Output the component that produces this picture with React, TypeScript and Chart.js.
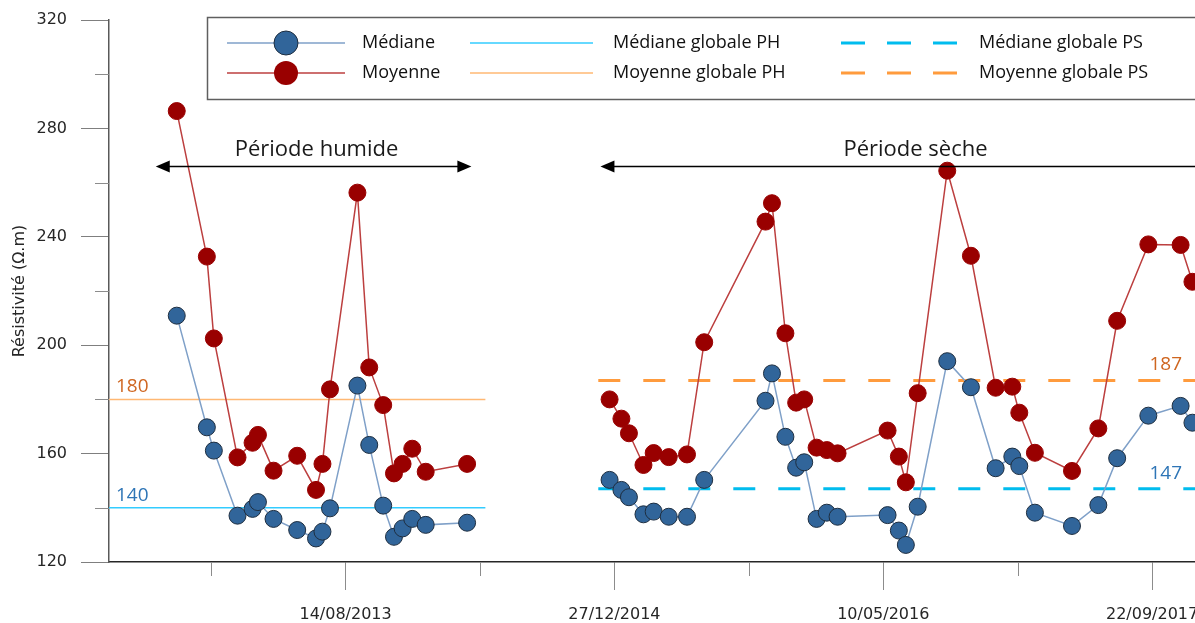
import React, { useEffect, useRef } from 'react';
import { Chart, registerables } from 'chart.js';

Chart.register(...registerables);

// ---- Data (x = Excel date serial numbers) ----
const phDates = [41186, 41242, 41255, 41299, 41327, 41337, 41366, 41410, 41445, 41457, 41471, 41522, 41544, 41570, 41590, 41606, 41624, 41649, 41726];
const phMedian = [210.9, 169.7, 161.1, 137.1, 139.6, 142.1, 135.9, 131.8, 128.7, 131.2, 139.8, 185.1, 163.2, 140.8, 129.3, 132.4, 135.9, 133.7, 134.5];
const phMean = [286.4, 232.7, 202.5, 158.6, 164.0, 166.9, 153.7, 159.2, 146.6, 156.2, 183.7, 256.3, 191.8, 177.9, 152.7, 156.2, 161.8, 153.3, 156.2];

const psDates = [41991, 42013, 42027, 42054, 42073, 42101, 42135, 42167, 42281, 42293, 42318, 42338, 42353, 42376, 42395, 42415, 42508, 42529, 42542, 42564, 42619, 42663, 42709, 42740, 42753, 42782, 42851, 42900, 42935, 42993, 43053, 43075];
const psMedian = [150.3, 146.6, 143.9, 137.6, 138.6, 136.7, 136.7, 150.3, 179.5, 189.6, 166.2, 154.8, 156.8, 135.9, 138.2, 136.7, 137.3, 131.6, 126.3, 140.4, 194.1, 184.5, 154.6, 158.9, 155.4, 138.2, 133.3, 141.0, 158.3, 174.0, 177.6, 171.4];
const psMean = [180.0, 172.9, 167.5, 155.8, 160.2, 158.7, 159.7, 201.1, 245.6, 252.4, 204.4, 178.8, 180.0, 162.2, 161.3, 160.1, 168.5, 158.9, 149.4, 182.3, 264.4, 233.0, 184.3, 184.7, 175.1, 160.3, 153.6, 169.3, 209.0, 237.2, 237.0, 223.4];

const globalMedianPH = 140;
const globalMeanPH = 180;
const globalMedianPS = 147;
const globalMeanPS = 187;
const phSpan = [41060, 41760];
const psSpan = [41970, 43183];

const yMajorTicks = [120, 160, 200, 240, 280, 320];
const yMinorTicks = [140, 180, 220, 260, 300];
const xMajorTicks = [41500, 42000, 42500, 43000];
const xTickLabels = ['14/08/2013', '27/12/2014', '10/05/2016', '22/09/2017'];
const xMinorTicks = [41250, 41750, 42250, 42750];

const legendLabels = ['Médiane', 'Moyenne', 'Médiane globale PH', 'Moyenne globale PH', 'Médiane globale PS', 'Moyenne globale PS'];
const periodLabels = ['Période humide', 'Période sèche'];
const yTitle = 'Résistivité (Ω.m)';

// ---- Styles ----
const X_MIN = 41060;
const X_MAX = 43183;
const BLUE_LINE = '#7FA0C8';
const BLUE_FILL = '#31659A';
const BLUE_EDGE = '#1E2E40';
const RED_LINE = '#BC3F3F';
const RED_FILL = '#990000';
const CYAN_PH = '#33CCFF';
const ORANGE_PH = '#FFB873';
const CYAN_PS = '#00BCEE';
const ORANGE_PS = '#FF9B3D';
const LBL_ORANGE = '#CF6620';
const LBL_BLUE = '#2E75B6';
const DASH = [22, 23];
const TEXT_FONT = '"Open Sans", "Noto Sans", sans-serif';

const toPts = (xs: number[], ys: number[]) => xs.map((x, i) => ({ x, y: ys[i] }));

const refLine = (span: number[], v: number, color: string, width: number, dash: number[]) => ({
  data: [{ x: span[0], y: v }, { x: span[1], y: v }],
  borderColor: color,
  borderWidth: width,
  borderDash: dash,
  pointRadius: 0,
  fill: false,
  order: 5,
});

const series = (xs: number[], ys: number[], line: string, fill: string, edge: string) => ({
  data: toPts(xs, ys),
  borderColor: line,
  borderWidth: 1.5,
  pointRadius: 8.5,
  pointBackgroundColor: fill,
  pointBorderColor: edge,
  pointBorderWidth: 1,
  fill: false,
  tension: 0,
  order: 1,
});

const overlay = {
  id: 'overlay',
  afterDatasetsDraw(chart: any) {
    const { ctx, scales } = chart;
    const xs = scales.x;
    const ys = scales.y;
    ctx.save();
    // value labels
    ctx.font = `19px ${TEXT_FONT}`;
    ctx.textAlign = 'left';
    ctx.textBaseline = 'alphabetic';
    ctx.fillStyle = LBL_ORANGE;
    ctx.fillText(String(globalMeanPH), xs.getPixelForValue(41073), ys.getPixelForValue(globalMeanPH) - 7);
    ctx.fillText(String(globalMeanPS), xs.getPixelForValue(42995), ys.getPixelForValue(globalMeanPS) - 10);
    ctx.fillStyle = LBL_BLUE;
    ctx.fillText(String(globalMedianPH), xs.getPixelForValue(41073), ys.getPixelForValue(globalMedianPH) - 7);
    ctx.fillText(String(globalMedianPS), xs.getPixelForValue(42995), ys.getPixelForValue(globalMedianPS) - 10);

    // period arrows
    const ay = Math.round(ys.getPixelForValue(266.3)) + 0.5;
    const head = (x: number, dir: number) => {
      ctx.beginPath();
      ctx.moveTo(x, ay);
      ctx.lineTo(x + dir * 14, ay - 6);
      ctx.lineTo(x + dir * 14, ay + 6);
      ctx.closePath();
      ctx.fill();
    };
    ctx.strokeStyle = '#000';
    ctx.fillStyle = '#000';
    ctx.lineWidth = 1.5;
    const h1 = xs.getPixelForValue(41147);
    const h2 = xs.getPixelForValue(41734);
    ctx.beginPath();
    ctx.moveTo(h1 + 4, ay);
    ctx.lineTo(h2 - 4, ay);
    ctx.stroke();
    head(h1, 1);
    head(h2, -1);
    const s1 = xs.getPixelForValue(41974);
    ctx.beginPath();
    ctx.moveTo(s1 + 4, ay);
    ctx.lineTo(chart.width, ay);
    ctx.stroke();
    head(s1, 1);

    ctx.font = `22px ${TEXT_FONT}`;
    ctx.textAlign = 'center';
    ctx.fillStyle = '#1a1a1a';
    const ty = ys.getPixelForValue(270);
    ctx.fillText(periodLabels[0], xs.getPixelForValue(41446), ty);
    ctx.fillText(periodLabels[1], xs.getPixelForValue(42560), ty);
    ctx.restore();
  },
  afterDraw(chart: any) {
    const { ctx, scales } = chart;
    const xs = scales.x;
    const ys = scales.y;
    ctx.save();
    // minor ticks
    ctx.lineWidth = 1;
    ctx.strokeStyle = '#8c8c8c';
    yMinorTicks.forEach((v) => {
      const y = Math.round(ys.getPixelForValue(v)) + 0.5;
      ctx.beginPath();
      ctx.moveTo(xs.left - 14, y);
      ctx.lineTo(xs.left, y);
      ctx.stroke();
    });
    xMinorTicks.forEach((v) => {
      const x = Math.round(xs.getPixelForValue(v)) + 0.5;
      ctx.beginPath();
      ctx.moveTo(x, ys.bottom);
      ctx.lineTo(x, ys.bottom + 14);
      ctx.stroke();
    });

    // legend
    const bx = 207.5, by = 17.5, bw = 1030, bh = 82;
    ctx.fillStyle = '#fff';
    ctx.fillRect(bx, by, bw, bh);
    ctx.strokeStyle = '#5f5f5f';
    ctx.lineWidth = 1.5;
    ctx.strokeRect(bx, by, bw, bh);
    const rows = [43, 73];
    const seg = (x1: number, x2: number, y: number, color: string, w: number, dash: number[]) => {
      ctx.save();
      ctx.strokeStyle = color;
      ctx.lineWidth = w;
      ctx.setLineDash(dash);
      ctx.beginPath();
      ctx.moveTo(x1, y);
      ctx.lineTo(x2, y);
      ctx.stroke();
      ctx.restore();
    };
    seg(227, 345, rows[0], BLUE_LINE, 1.5, []);
    seg(227, 345, rows[1], RED_LINE, 1.5, []);
    ctx.beginPath();
    ctx.arc(286, rows[0], 12, 0, Math.PI * 2);
    ctx.fillStyle = BLUE_FILL;
    ctx.fill();
    ctx.strokeStyle = BLUE_EDGE;
    ctx.lineWidth = 1;
    ctx.stroke();
    ctx.beginPath();
    ctx.arc(286, rows[1], 12, 0, Math.PI * 2);
    ctx.fillStyle = RED_FILL;
    ctx.fill();
    seg(470, 593, rows[0], CYAN_PH, 1.5, []);
    seg(470, 593, rows[1], ORANGE_PH, 1.5, []);
    seg(841, 957, rows[0], CYAN_PS, 3, [24, 22]);
    seg(841, 957, rows[1], ORANGE_PS, 3, [24, 22]);

    ctx.font = `18px ${TEXT_FONT}`;
    ctx.fillStyle = '#111';
    ctx.textAlign = 'left';
    ctx.textBaseline = 'alphabetic';
    ctx.fillText(legendLabels[0], 362, rows[0] + 5);
    ctx.fillText(legendLabels[1], 362, rows[1] + 5);
    ctx.fillText(legendLabels[2], 613, rows[0] + 5);
    ctx.fillText(legendLabels[3], 613, rows[1] + 5);
    ctx.fillText(legendLabels[4], 979, rows[0] + 5);
    ctx.fillText(legendLabels[5], 979, rows[1] + 5);
    ctx.restore();
  },
};

export default function App() {
  const ref = useRef<HTMLCanvasElement | null>(null);

  useEffect(() => {
    if (!ref.current) return;
    Chart.defaults.font.family = '"DejaVu Sans", sans-serif';
    const chart = new Chart(ref.current, {
      type: 'line',
      data: {
        datasets: [
          refLine(phSpan, globalMedianPH, CYAN_PH, 1.5, []),
          refLine(phSpan, globalMeanPH, ORANGE_PH, 1.5, []),
          refLine(psSpan, globalMedianPS, CYAN_PS, 3, DASH),
          refLine(psSpan, globalMeanPS, ORANGE_PS, 3, DASH),
          series(phDates, phMedian, BLUE_LINE, BLUE_FILL, BLUE_EDGE),
          series(psDates, psMedian, BLUE_LINE, BLUE_FILL, BLUE_EDGE),
          series(phDates, phMean, RED_LINE, RED_FILL, RED_FILL),
          series(psDates, psMean, RED_LINE, RED_FILL, RED_FILL),
        ] as any,
      },
      options: {
        animation: false,
        responsive: false,
        devicePixelRatio: 1,
        layout: { padding: { top: 20, left: 0, right: 0, bottom: 0 } },
        plugins: { legend: { display: false }, tooltip: { enabled: false } },
        scales: {
          x: {
            type: 'linear',
            min: X_MIN,
            max: X_MAX,
            afterBuildTicks: (s: any) => {
              s.ticks = xMajorTicks.map((value) => ({ value }));
            },
            afterFit: (s: any) => {
              s.height = 61;
            },
            ticks: {
              autoSkip: false,
              maxRotation: 0,
              padding: 15,
              color: '#262626',
              font: { size: 16 },
              callback: (v: any) => {
                const i = xMajorTicks.indexOf(Number(v));
                return i >= 0 ? xTickLabels[i] : '';
              },
            },
            grid: { drawOnChartArea: false, drawTicks: true, tickLength: 28, tickColor: '#8c8c8c' },
            border: { color: '#262626', width: 1.5 },
          },
          y: {
            min: 120,
            max: 320,
            afterBuildTicks: (s: any) => {
              s.ticks = yMajorTicks.map((value) => ({ value }));
            },
            afterFit: (s: any) => {
              s.width = 109;
              s.paddingTop = 0;
              s.paddingBottom = 0;
            },
            title: {
              display: true,
              text: yTitle,
              color: '#262626',
              font: { size: 16 },
              padding: { top: 10, bottom: 0 },
            },
            ticks: { padding: 14, color: '#262626', font: { size: 16 } },
            grid: { drawOnChartArea: false, drawTicks: true, tickLength: 28, tickColor: '#7f7f7f' },
            border: { color: '#595959', width: 1.5 },
          },
        },
      } as any,
      plugins: [overlay],
    });
    return () => chart.destroy();
  }, []);

  return (
    <div style={{ position: 'fixed', left: 0, top: 0, width: 1195, height: 623, overflow: 'hidden', background: '#fff' }}>
      <canvas ref={ref} width={1260} height={623} style={{ display: 'block' }} />
    </div>
  );
}
